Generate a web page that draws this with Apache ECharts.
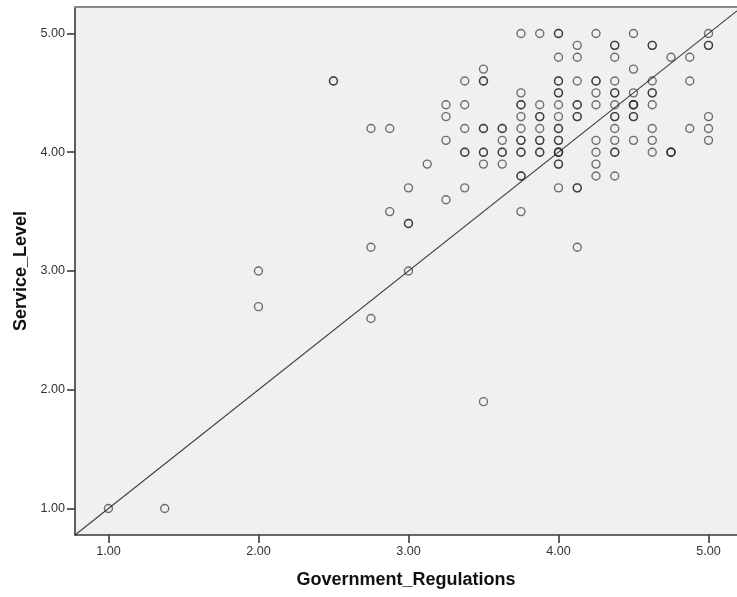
<!DOCTYPE html>
<html>
<head>
<meta charset="utf-8">
<title>Service_Level vs Government_Regulations</title>
<script src="https://cdn.jsdelivr.net/npm/echarts@6/dist/echarts.min.js"></script>
<style>
  html, body { margin: 0; padding: 0; background: #ffffff; }
  #chart { width: 737px; height: 597px; }
</style>
</head>
<body>
<div id="chart"></div>
<script>
// Government_Regulations (x) and Service_Level (y) per respondent.
// Repeated pairs are listed more than once so that overlapping rings darken.
const govRegulations = [
  1.0, 1.375,
  2.0, 2.0,
  2.5, 2.5,
  2.75, 2.75, 2.75,
  2.875, 2.875,
  3.0, 3.0, 3.0, 3.0,
  3.125,
  3.25, 3.25, 3.25, 3.25,
  3.375, 3.375, 3.375, 3.375, 3.375, 3.375,
  3.5, 3.5, 3.5, 3.5, 3.5, 3.5, 3.5, 3.5, 3.5,
  3.625, 3.625, 3.625, 3.625, 3.625, 3.625,
  3.75, 3.75, 3.75, 3.75, 3.75, 3.75, 3.75, 3.75, 3.75, 3.75, 3.75, 3.75, 3.75,
  3.875, 3.875, 3.875, 3.875, 3.875, 3.875, 3.875, 3.875, 3.875,
  4.0, 4.0, 4.0, 4.0, 4.0, 4.0, 4.0, 4.0, 4.0, 4.0, 4.0, 4.0, 4.0, 4.0, 4.0, 4.0, 4.0, 4.0, 4.0,
  4.125, 4.125, 4.125, 4.125, 4.125, 4.125, 4.125, 4.125, 4.125, 4.125,
  4.25, 4.25, 4.25, 4.25, 4.25, 4.25, 4.25, 4.25, 4.25,
  4.375, 4.375, 4.375, 4.375, 4.375, 4.375, 4.375, 4.375, 4.375, 4.375, 4.375, 4.375, 4.375, 4.375,
  4.5, 4.5, 4.5, 4.5, 4.5, 4.5, 4.5, 4.5, 4.5,
  4.625, 4.625, 4.625, 4.625, 4.625, 4.625, 4.625, 4.625, 4.625,
  4.75, 4.75, 4.75, 4.75,
  4.875, 4.875, 4.875,
  5.0, 5.0, 5.0, 5.0, 5.0, 5.0
];
const serviceLevel = [
  1.0, 1.0,
  3.0, 2.7,
  4.6, 4.6,
  4.2, 3.2, 2.6,
  4.2, 3.5,
  3.7, 3.4, 3.4, 3.0,
  3.9,
  4.4, 4.3, 4.1, 3.6,
  4.6, 4.4, 4.2, 4.0, 4.0, 3.7,
  4.7, 4.6, 4.6, 4.2, 4.2, 4.0, 4.0, 3.9, 1.9,
  4.2, 4.2, 4.1, 4.0, 4.0, 3.9,
  5.0, 4.5, 4.4, 4.4, 4.3, 4.2, 4.1, 4.1, 4.0, 4.0, 3.8, 3.8, 3.5,
  5.0, 4.4, 4.3, 4.3, 4.1, 4.1, 4.0, 4.0, 4.2,
  5.0, 5.0, 4.8, 4.6, 4.6, 4.5, 4.5, 4.4, 4.3, 4.2, 4.2, 4.1, 4.1, 4.0, 4.0, 4.0, 3.9, 3.9, 3.7,
  4.9, 4.8, 4.6, 4.4, 4.4, 4.3, 4.3, 3.7, 3.7, 3.2,
  5.0, 4.6, 4.6, 4.5, 4.4, 4.1, 4.0, 3.9, 3.8,
  4.9, 4.9, 4.8, 4.6, 4.5, 4.5, 4.4, 4.3, 4.3, 4.2, 4.1, 4.0, 4.0, 3.8,
  5.0, 4.7, 4.5, 4.4, 4.4, 4.3, 4.3, 4.1, 4.4,
  4.9, 4.9, 4.6, 4.5, 4.5, 4.4, 4.2, 4.1, 4.0,
  4.8, 4.0, 4.0, 4.0,
  4.8, 4.6, 4.2,
  5.0, 4.9, 4.9, 4.3, 4.2, 4.1
];

// Axis extents and labelled tick positions.
const axisMin = 0.777;
const xMax = 5.19;
const yMax = 5.223;
const tickValues = [1, 2, 3, 4, 5];
const xTitle = 'Government_Regulations';
const yTitle = 'Service_Level';

const points = govRegulations.map((x, i) => [x, serviceLevel[i]]);
// Reference line y = x across the visible plot area
const diagonal = [[axisMin, axisMin], [xMax, xMax]];

const chart = echarts.init(document.getElementById('chart'), null, { renderer: 'canvas' });

const fontFamily = '"Liberation Sans", Arial, sans-serif';
const labelStyle = {
  color: '#333333',
  fontFamily: fontFamily,
  fontSize: 12.6,
  margin: 10,
  customValues: tickValues,
  formatter: v => Number(v).toFixed(2)
};
const nameStyle = {
  color: '#111111',
  fontFamily: fontFamily,
  fontSize: 18,
  fontWeight: 'bold'
};
const lineStyle = { color: '#3a3a3a', width: 1.6 };
const tickStyle = { show: true, inside: false, length: 8, customValues: tickValues, lineStyle: { color: '#3a3a3a', width: 1.6 } };

chart.setOption({
  animation: false,
  backgroundColor: '#ffffff',
  grid: {
    show: true,
    left: 75,
    top: 7,
    right: 0,
    height: 528,
    backgroundColor: '#f0f0f0',
    borderWidth: 0,
    containLabel: false
  },
  xAxis: [
    {
      type: 'value',
      position: 'bottom',
      min: axisMin,
      max: xMax,
      name: xTitle,
      nameLocation: 'middle',
      nameGap: 36,
      nameTextStyle: nameStyle,
      axisLine: { show: true, onZero: false, lineStyle: lineStyle },
      axisTick: tickStyle,
      axisLabel: labelStyle,
      splitLine: { show: false }
    },
    {
      // plain frame edge along the top of the plot
      type: 'value',
      position: 'top',
      min: axisMin,
      max: xMax,
      axisLine: { show: true, onZero: false, lineStyle: { color: '#8a8a8a', width: 2 } },
      axisTick: { show: false },
      axisLabel: { show: false },
      splitLine: { show: false }
    }
  ],
  yAxis: {
    type: 'value',
    min: axisMin,
    max: yMax,
    name: yTitle,
    nameLocation: 'middle',
    nameRotate: 90,
    nameGap: 44,
    nameTextStyle: nameStyle,
    axisLine: { show: true, onZero: false, lineStyle: lineStyle },
    axisTick: tickStyle,
    axisLabel: labelStyle,
    splitLine: { show: false }
  },
  series: [
    {
      type: 'line',
      data: diagonal,
      symbol: 'none',
      silent: true,
      clip: true,
      lineStyle: { color: '#3c3c3c', width: 1.1 },
      z: 2
    },
    {
      type: 'scatter',
      data: points,
      symbol: 'circle',
      symbolSize: 8,
      silent: true,
      itemStyle: {
        color: 'rgba(0,0,0,0)',
        borderColor: 'rgba(30,30,30,0.78)',
        borderWidth: 1.4
      },
      z: 3
    }
  ]
});
</script>
</body>
</html>
